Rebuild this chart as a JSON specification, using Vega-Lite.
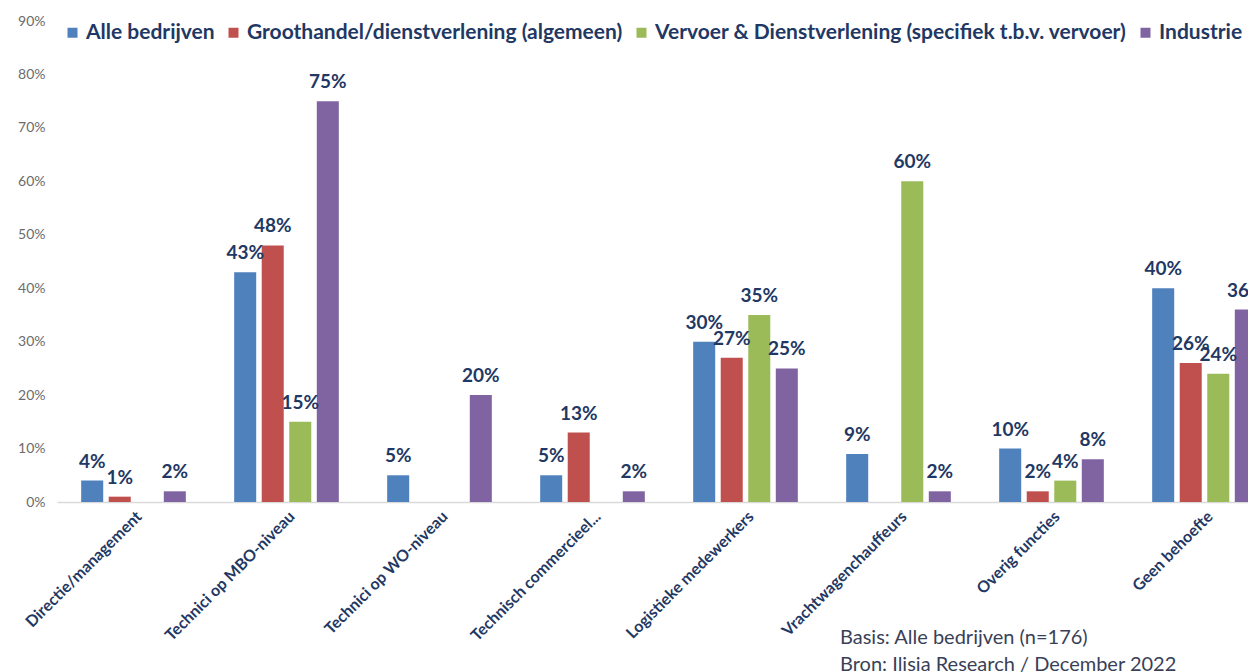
{
  "$schema": "https://vega.github.io/schema/vega-lite/v6.json",
  "width": 1191,
  "height": 481,
  "autosize": {"type": "none"},
  "padding": {"left": 57, "top": 21, "right": 0, "bottom": 170},
  "background": "white",
  "config": {
    "view": {"stroke": null},
    "font": "Lato"
  },
  "title": {
    "text": ["Basis: Alle bedrijven (n=176)", "Bron: Ilisia Research / December 2022"],
    "orient": "bottom",
    "anchor": "start",
    "frame": "group",
    "offset": -16,
    "dx": 783,
    "font": "Lato",
    "fontSize": 20,
    "fontWeight": "normal",
    "color": "#3a3f58",
    "lineHeight": 27
  },
  "data": {
    "values": [
      {"functie": "Directie/management", "sector": "Alle bedrijven", "waarde": 0.04},
      {"functie": "Directie/management", "sector": "Groothandel/dienstverlening (algemeen)", "waarde": 0.01},
      {"functie": "Directie/management", "sector": "Industrie", "waarde": 0.02},
      {"functie": "Technici op MBO-niveau", "sector": "Alle bedrijven", "waarde": 0.43},
      {"functie": "Technici op MBO-niveau", "sector": "Groothandel/dienstverlening (algemeen)", "waarde": 0.48},
      {"functie": "Technici op MBO-niveau", "sector": "Vervoer & Dienstverlening (specifiek t.b.v. vervoer)", "waarde": 0.15},
      {"functie": "Technici op MBO-niveau", "sector": "Industrie", "waarde": 0.75},
      {"functie": "Technici op WO-niveau", "sector": "Alle bedrijven", "waarde": 0.05},
      {"functie": "Technici op WO-niveau", "sector": "Industrie", "waarde": 0.20},
      {"functie": "Technisch commercieel...", "sector": "Alle bedrijven", "waarde": 0.05},
      {"functie": "Technisch commercieel...", "sector": "Groothandel/dienstverlening (algemeen)", "waarde": 0.13},
      {"functie": "Technisch commercieel...", "sector": "Industrie", "waarde": 0.02},
      {"functie": "Logistieke medewerkers", "sector": "Alle bedrijven", "waarde": 0.30},
      {"functie": "Logistieke medewerkers", "sector": "Groothandel/dienstverlening (algemeen)", "waarde": 0.27},
      {"functie": "Logistieke medewerkers", "sector": "Vervoer & Dienstverlening (specifiek t.b.v. vervoer)", "waarde": 0.35},
      {"functie": "Logistieke medewerkers", "sector": "Industrie", "waarde": 0.25},
      {"functie": "Vrachtwagenchauffeurs", "sector": "Alle bedrijven", "waarde": 0.09},
      {"functie": "Vrachtwagenchauffeurs", "sector": "Vervoer & Dienstverlening (specifiek t.b.v. vervoer)", "waarde": 0.60},
      {"functie": "Vrachtwagenchauffeurs", "sector": "Industrie", "waarde": 0.02},
      {"functie": "Overig functies", "sector": "Alle bedrijven", "waarde": 0.10},
      {"functie": "Overig functies", "sector": "Groothandel/dienstverlening (algemeen)", "waarde": 0.02},
      {"functie": "Overig functies", "sector": "Vervoer & Dienstverlening (specifiek t.b.v. vervoer)", "waarde": 0.04},
      {"functie": "Overig functies", "sector": "Industrie", "waarde": 0.08},
      {"functie": "Geen behoefte", "sector": "Alle bedrijven", "waarde": 0.40},
      {"functie": "Geen behoefte", "sector": "Groothandel/dienstverlening (algemeen)", "waarde": 0.26},
      {"functie": "Geen behoefte", "sector": "Vervoer & Dienstverlening (specifiek t.b.v. vervoer)", "waarde": 0.24},
      {"functie": "Geen behoefte", "sector": "Industrie", "waarde": 0.36}
    ]
  },
  "encoding": {
    "x": {
      "field": "functie",
      "type": "nominal",
      "sort": null,
      "title": null,
      "scale": {"range": [0, 1224], "paddingInner": 0.28, "paddingOuter": 0.14},
      "axis": {
        "labelAngle": -45,
        "labelFont": "Lato",
        "labelFontSize": 16,
        "labelFontWeight": "bold",
        "labelColor": "#1f3864",
        "labelPadding": 6,
        "ticks": false,
        "tickSize": 0,
        "domainColor": "#d9d9d9",
        "domainWidth": 1.5,
        "grid": false,
        "labelLimit": 300
      }
    },
    "xOffset": {
      "field": "sector",
      "type": "nominal",
      "sort": ["Alle bedrijven", "Groothandel/dienstverlening (algemeen)", "Vervoer & Dienstverlening (specifiek t.b.v. vervoer)", "Industrie"],
      "scale": {"paddingInner": 0.2, "paddingOuter": 0.1}
    },
    "y": {
      "field": "waarde",
      "type": "quantitative",
      "title": null,
      "scale": {"domain": [0, 0.9], "nice": false},
      "axis": {
        "values": [0, 0.1, 0.2, 0.3, 0.4, 0.5, 0.6, 0.7, 0.8, 0.9],
        "format": ".0%",
        "grid": false,
        "domain": false,
        "ticks": false,
        "tickSize": 0,
        "labelPadding": 12,
        "labelFont": "Lato",
        "labelFontSize": 14,
        "labelColor": "#6b6b6b"
      }
    }
  },
  "layer": [
    {
      "mark": {"type": "bar"},
      "encoding": {
        "color": {
          "field": "sector",
          "type": "nominal",
          "sort": ["Alle bedrijven", "Groothandel/dienstverlening (algemeen)", "Vervoer & Dienstverlening (specifiek t.b.v. vervoer)", "Industrie"],
          "scale": {
            "domain": ["Alle bedrijven", "Groothandel/dienstverlening (algemeen)", "Vervoer & Dienstverlening (specifiek t.b.v. vervoer)", "Industrie"],
            "range": ["#4f81bd", "#c0504d", "#9bbb59", "#8064a2"]
          },
          "legend": {
            "title": null,
            "orient": "none",
            "direction": "horizontal",
            "columns": 4,
            "legendX": 5,
            "legendY": 1,
            "symbolType": "square",
            "symbolSize": 100,
            "symbolStrokeWidth": 0,
            "labelFont": "Lato",
            "labelFontSize": 21,
            "labelFontWeight": "bold",
            "labelColor": "#1f3864",
            "labelOffset": 3,
            "columnPadding": 8,
            "labelLimit": 600
          }
        }
      }
    },
    {
      "mark": {
        "type": "text",
        "font": "Lato",
        "fontSize": 19,
        "fontWeight": "bold",
        "color": "#1f3864",
        "baseline": "alphabetic",
        "dy": -13
      },
      "encoding": {
        "text": {"field": "waarde", "type": "quantitative", "format": ".0%"},
        "detail": {"field": "sector"}
      }
    }
  ]
}
